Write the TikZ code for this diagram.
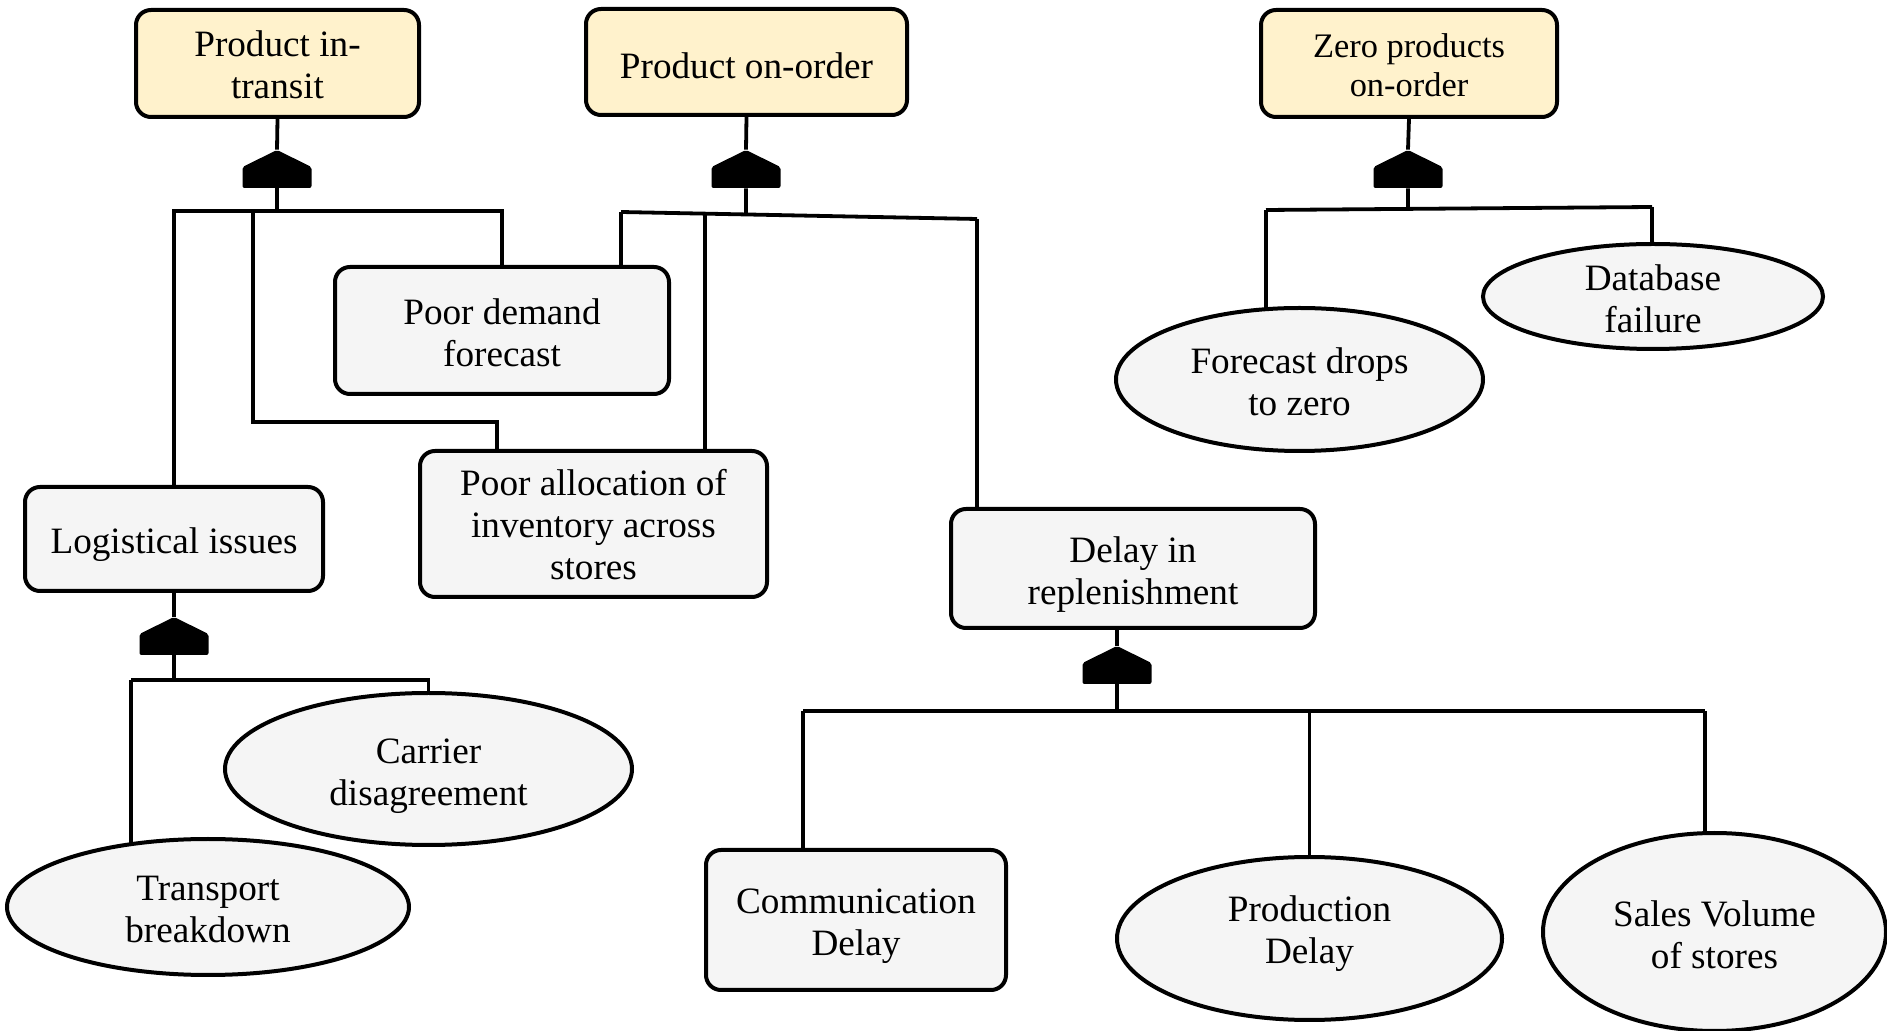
\documentclass[tikz,border=0pt]{standalone}
\usepackage{fontspec}
\setmainfont{Liberation Serif}
\usetikzlibrary{shapes.geometric,calc,backgrounds}
\definecolor{eventfill}{HTML}{FFF2CC}
\definecolor{basefill}{HTML}{F5F5F5}

\begin{document}
\begin{tikzpicture}[x=0.5pt,y=-0.5pt,
  txt/.style={font=\fontsize{18.6}{21}\selectfont, align=center, inner sep=0pt},
  smalltxt/.style={font=\fontsize{17.2}{19.5}\selectfont, align=center, inner sep=0pt},
  outline/.style={draw, line width=2pt},
  topevent/.style={outline, rounded corners=7.5pt, fill=eventfill},
  midevent/.style={outline, rounded corners=7.5pt, fill=basefill},
  basicevent/.style={outline, ellipse, fill=basefill},
  orgate/.style={inner sep=0pt, minimum width=34.5pt, minimum height=19pt,
    path picture={\fill[rounded corners=1pt]
      (path picture bounding box.south west)
      -- ([yshift=-8.5pt]path picture bounding box.north west)
      -- (path picture bounding box.north)
      -- ([yshift=-8.5pt]path picture bounding box.north east)
      -- (path picture bounding box.south east) -- cycle;}},
  link/.style={line width=1.9pt}
]
\useasboundingbox (0,0) rectangle (1887,1031);

% top events
\node[topevent, minimum width=141.5pt, minimum height=53.5pt,
  label={[txt, yshift=-0.6pt]center:Product in-\\transit}] (top1) at (277.5,63.5) {};
\node[topevent, minimum width=160.5pt, minimum height=53pt,
  label={[txt, yshift=-1.8pt]center:Product on-order}] (top2) at (746.5,62) {};
\node[topevent, minimum width=148pt, minimum height=53.5pt,
  label={[smalltxt, yshift=-0.8pt]center:Zero products\\on-order}] (top3) at (1409,63.5) {};

% intermediate events
\node[midevent, minimum width=167pt, minimum height=63.5pt,
  label={[txt, yshift=-1.2pt]center:Poor demand\\forecast}] (demand) at (502,330.5) {};
\node[midevent, minimum width=173.5pt, minimum height=73pt,
  label={[txt, yshift=-0.5pt]center:Poor allocation of\\inventory across\\stores}] (alloc) at (593.5,524) {};
\node[midevent, minimum width=149pt, minimum height=52pt,
  label={[txt, yshift=-3pt]center:Logistical issues}] (logist) at (174,539) {};
\node[midevent, minimum width=182pt, minimum height=59.5pt,
  label={[txt, yshift=-3pt]center:Delay in\\replenishment}] (delay) at (1133,568.5) {};
\node[midevent, minimum width=150pt, minimum height=70pt,
  label={[txt, yshift=-3pt]center:Communication\\Delay}] (comm) at (856,920) {};

% basic events
\node[basicevent, minimum width=170pt, minimum height=52.5pt,
  label={[txt, yshift=-1.2pt]center:Database\\failure}] (dbfail) at (1653,296.5) {};
\node[basicevent, minimum width=183.5pt, minimum height=71.5pt,
  label={[txt, yshift=-1.2pt]center:Forecast drops\\to zero}] (fzero) at (1299.5,379.5) {};
\node[basicevent, minimum width=203.5pt, minimum height=76pt,
  label={[txt, yshift=-3.4pt]center:Carrier\\disagreement}] (carrier) at (428.5,769) {};
\node[basicevent, minimum width=201pt, minimum height=68pt,
  label={[txt, yshift=-1.2pt]center:Transport\\breakdown}] (transport) at (208,907) {};
\node[basicevent, minimum width=192.5pt, minimum height=81.5pt,
  label={[txt, yshift=2.5pt]center:Production\\Delay}] (prod) at (1309.5,938.5) {};
\node[basicevent, minimum width=171.5pt, minimum height=99pt,
  label={[txt, yshift=-1.2pt]center:Sales Volume\\of stores}] (sales) at (1714.5,932) {};

% OR gates
\node[orgate] (g1) at (277,169) {};
\node[orgate] (g2) at (746,169) {};
\node[orgate] (g3) at (1408,169) {};
\node[orgate] (g4) at (174,636) {};
\node[orgate] (g5) at (1117,665) {};

% bus points
\coordinate (b1) at (277,211);
\coordinate (b1j) at (253,211);
\coordinate (b1k) at (497,422);
\coordinate (b2l) at (621,212);
\coordinate (b2r) at (977,219);
\coordinate (b2m) at ($(b2l)!0.236!(b2r)$);
\coordinate (b2s) at ($(b2l)!0.351!(b2r)$);
\coordinate (b3l) at (1266,210);
\coordinate (b3r) at (1652,207);
\coordinate (b3s) at ($(b3l)!0.368!(b3r)$);
\coordinate (b4) at (174,680);
\coordinate (b4l) at (131,680);
\coordinate (b5) at (1117,711);
\coordinate (b5l) at (803,711);
\coordinate (b5r) at (1705,711);

\begin{scope}[on background layer]
  % Product in-transit
  \draw[link] (top1.south) -- (g1.north);
  \draw[link] (g1.south) -- (b1);
  \draw[link] (b1) -| (logist.north);
  \draw[link] (b1) -| (demand.north);
  \draw[link] (b1j) |- (b1k) -- (b1k |- alloc.north);
  % Product on-order
  \draw[link] (top2.south) -- (g2.north);
  \draw[link] (g2.south) -- (b2s);
  \draw[link] (b2l) -- (b2r);
  \draw[link] (b2l) -- (b2l |- demand.north);
  \draw[link] (b2m) -- (b2m |- alloc.north);
  \draw[link] (b2r) -- (b2r |- delay.north);
  % Zero products on-order
  \draw[link] (top3.south) -- (g3.north);
  \draw[link] (g3.south) -- (b3s);
  \draw[link] (b3l) -- (b3r);
  \draw[link] (b3l) -- (b3l |- fzero.center);
  \draw[link] (b3r) -- (b3r |- dbfail.north);
  % Logistical issues
  \draw[link] (logist.south) -- (g4.north);
  \draw[link] (g4.south) -- (b4);
  \draw[link] (b4l) -- (b4) -| (carrier.north);
  \draw[link] (b4l) -- (b4l |- transport.center);
  % Delay in replenishment
  \draw[link] (g5.north |- delay.south) -- (g5.north);
  \draw[link] (g5.south) -- (b5);
  \draw[link] (b5l) -- (b5r);
  \draw[link] (b5l) -- (b5l |- comm.north);
  \draw[link] (prod.north |- b5) -- (prod.north);
  \draw[link] (b5r) -- (b5r |- sales.center);
\end{scope}
\end{tikzpicture}
\end{document}
